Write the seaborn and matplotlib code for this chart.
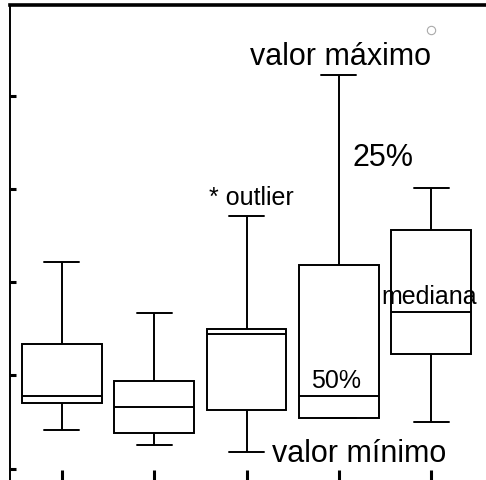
import pandas as pd
import seaborn as sns
import matplotlib.pyplot as plt

# Valores (escala do eixo y: 0 a 5)
grupos = ["A", "B", "C", "D", "E"]
minimo = [0.42, 0.25, 0.18, 0.54, 0.50]
q1 = [0.71, 0.38, 0.63, 0.54, 1.23]
mediana = [0.78, 0.66, 1.44, 0.78, 1.68]
q3 = [1.34, 0.94, 1.50, 2.18, 2.56]
maximo = [2.22, 1.67, 2.71, 4.22, 3.01]
outliers = [[], [], [], [], [4.70]]

# Monta amostras cujos quartis reproduzem os valores acima
linhas = []
for i, g in enumerate(grupos):
    if outliers[i]:
        amostra = [minimo[i], q1[i], q1[i], mediana[i], mediana[i],
                   q3[i], q3[i], maximo[i]] + outliers[i]
    else:
        amostra = [minimo[i], q1[i], q1[i], mediana[i], mediana[i],
                   mediana[i], q3[i], q3[i], maximo[i]]
    for v in amostra:
        linhas.append({"grupo": g, "valor": v})
df = pd.DataFrame(linhas)

sns.set_style("white")
plt.rcParams["font.family"] = ["Liberation Sans", "DejaVu Sans"]
plt.rcParams["text.color"] = "black"

fig = plt.figure(figsize=(4.86, 4.81), dpi=100)
ax = fig.add_axes([10 / 486, -0.0096, 1.0, 0.997])

sns.boxplot(data=df, x="grupo", y="valor", ax=ax, color="white",
            linecolor="black", linewidth=1.4, width=0.865, whis=1.5,
            capwidths=0.38,
            flierprops=dict(marker="o", markersize=6, markerfacecolor="none",
                            markeredgecolor="#aaaaaa", markeredgewidth=0.8))

ax.set_xlim(-0.56, 4.7)
ax.set_ylim(-0.17, 4.97)
ax.set_yticks([0, 1, 2, 3, 4])
ax.set_xticks(range(len(grupos)))
ax.set_xticklabels([])
ax.set_yticklabels([])
ax.set_xlabel("")
ax.set_ylabel("")
ax.tick_params(axis="y", direction="in", length=4.5, width=2.2, color="black", left=True)
ax.tick_params(axis="x", direction="in", length=11, width=2.2, color="black", bottom=True)

ax.spines["right"].set_visible(False)
ax.spines["top"].set_linewidth(2.6)
ax.spines["left"].set_linewidth(1.4)
ax.spines["bottom"].set_linewidth(1.4)
for s in ax.spines.values():
    s.set_color("black")

# Anotações
ax.text(3.02, 4.34, "valor máximo", fontsize=22, ha="center", va="baseline", color="black")
ax.text(3.48, 3.26, "25%", fontsize=22, ha="center", va="baseline", color="black")
ax.text(2.05, 2.84, "* outlier", fontsize=18, ha="center", va="baseline", color="black")
ax.text(3.98, 1.78, "mediana", fontsize=18, ha="center", va="baseline", color="black")
ax.text(2.97, 0.88, "50%", fontsize=18, ha="center", va="baseline", color="black")
ax.text(3.22, 0.086, "valor mínimo", fontsize=22, ha="center", va="baseline", color="black")

fig.savefig("out.png", dpi=100)
